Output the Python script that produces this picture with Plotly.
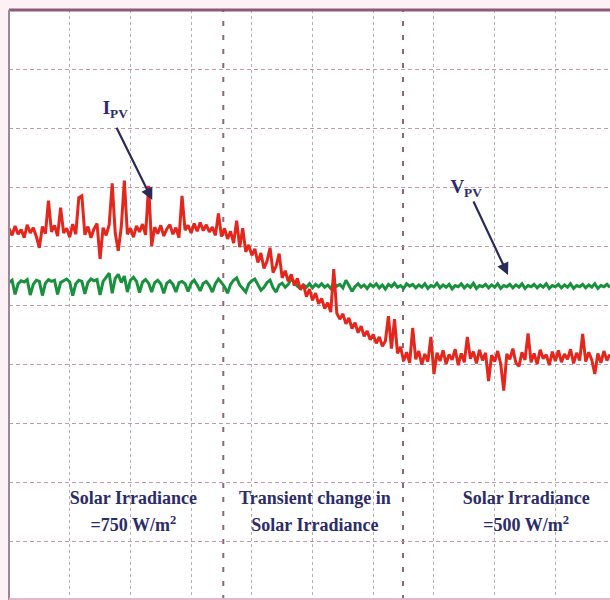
import numpy as np
import plotly.graph_objects as go

# Oscilloscope capture: PV current and voltage during a step change in irradiance.
# Horizontal axis in screen divisions (time), vertical axis in screen divisions.
SAMPLE_STEP = 0.05  # divisions between samples

# PV current trace (divisions)
i_pv = [
    6.30, 6.18, 6.34, 6.20, 6.28, 6.14, 6.36, 6.22, 6.31, 6.16,
    5.97, 6.33, 6.21, 6.77, 6.24, 6.35, 6.17, 6.65, 6.22, 6.30,
    6.15, 6.37, 6.20, 6.82, 6.85, 6.19, 6.33, 6.14, 6.29, 6.38,
    5.78, 6.31, 6.18, 6.36, 7.06, 6.22, 5.92, 6.33, 7.11, 6.20,
    6.30, 6.15, 6.34, 6.24, 6.37, 6.19, 7.02, 6.00, 6.32, 6.21,
    6.35, 6.17, 6.29, 6.36, 6.20, 6.31, 6.14, 6.85, 6.27, 6.35,
    6.22, 6.38, 6.25, 6.40, 6.26, 6.36, 6.24,
    6.32, 6.18, 6.55, 6.16, 6.30, 6.12, 6.25, 6.05, 6.43, 5.98,
    6.30, 5.90, 6.02, 5.84, 5.95, 5.72, 5.88, 5.62, 5.74, 5.97,
    5.55, 5.66, 5.87, 5.46, 5.58, 5.40, 5.52, 5.33, 5.45, 5.26,
    5.35, 5.14, 5.27, 5.08, 5.20, 5.02, 5.11, 4.94, 5.04, 4.88,
    5.61, 4.86, 4.76, 4.85, 4.68, 4.78, 4.60, 4.70, 4.53, 4.64,
    4.47, 4.56, 4.41, 4.50, 4.35, 4.46, 4.30, 4.39, 4.81, 4.26,
    4.76, 4.18, 4.29,
    4.05, 4.20, 4.02, 4.61, 4.08, 4.22, 3.99, 4.17, 4.04, 4.46,
    3.83, 4.19, 4.05, 4.23, 4.00, 4.16, 4.07, 4.25, 3.98, 4.18,
    4.03, 4.46, 4.09, 4.21, 4.01, 4.24, 4.06, 4.19, 3.71, 4.15,
    4.04, 4.22, 4.00, 3.55, 4.17, 4.08, 4.26, 4.02, 3.96, 4.20,
    4.07, 4.52, 4.03, 4.18, 4.00, 4.24, 4.09, 4.16, 3.98, 4.21,
    4.05, 4.23, 4.03, 4.17, 4.08, 4.25, 4.01, 4.19, 4.06, 4.51,
    4.04, 4.20, 4.07, 3.83, 4.18, 4.02, 4.22, 4.06, 4.16,
]

# PV voltage trace (divisions)
v_pv = [
    5.38, 5.42, 5.18, 5.36, 5.41, 5.39, 5.43, 5.17, 5.35, 5.42,
    5.40, 5.16, 5.37, 5.43, 5.40, 5.42, 5.18, 5.38, 5.41, 5.44,
    5.39, 5.16, 5.36, 5.42, 5.40, 5.19, 5.38, 5.44, 5.41, 5.43,
    5.17, 5.40, 5.47, 5.54, 5.20, 5.45, 5.52, 5.38, 5.49, 5.22,
    5.42, 5.47, 5.40, 5.21, 5.39, 5.43, 5.37, 5.22, 5.38, 5.42,
    5.36, 5.20, 5.37, 5.41, 5.35, 5.22, 5.38, 5.40, 5.36, 5.23,
    5.37, 5.42, 5.34, 5.24, 5.37, 5.40, 5.33, 5.22, 5.36, 5.44,
    5.38, 5.31, 5.20, 5.35, 5.42, 5.46, 5.34, 5.28, 5.22, 5.36,
    5.41, 5.44, 5.33, 5.25, 5.30, 5.38, 5.42, 5.29, 5.22, 5.34,
    5.37, 5.30, 5.35, 5.45, 5.38, 5.32, 5.28, 5.34, 5.30, 5.36,
    5.29, 5.35, 5.31, 5.36, 5.30, 5.34, 5.28, 5.37, 5.32, 5.35,
    5.29, 5.42, 5.33, 5.23, 5.31, 5.36, 5.30, 5.34, 5.28, 5.35,
    5.31, 5.36, 5.29, 5.34, 5.27, 5.35, 5.31, 5.37, 5.30, 5.33,
    5.28, 5.36, 5.32, 5.35, 5.29, 5.34, 5.30, 5.36, 5.28, 5.33,
    5.31, 5.37, 5.29, 5.34, 5.30, 5.35, 5.27, 5.33, 5.31, 5.36,
    5.29, 5.34, 5.30, 5.37, 5.28, 5.33, 5.31, 5.35, 5.29, 5.34,
    5.30, 5.36, 5.28, 5.33, 5.31, 5.35, 5.29, 5.34, 5.30, 5.36,
    5.28, 5.33, 5.31, 5.35, 5.29, 5.34, 5.30, 5.36, 5.28, 5.33,
    5.31, 5.35, 5.29, 5.34, 5.30, 5.36, 5.28, 5.33, 5.31, 5.35,
    5.29, 5.34, 5.30, 5.36, 5.28, 5.33, 5.31, 5.35, 5.30,
]

# Boundaries between the irradiance regions (divisions)
region_bounds = [3.53, 6.49]

# Region captions: lines of text and horizontal centres
region_lines = [
    ["Solar Irradiance", "=750 W/m<sup>2</sup>"],
    ["Transient change in", "Solar Irradiance"],
    ["Solar Irradiance", "=500 W/m<sup>2</sup>"],
]
region_centers = [2.05, 5.04, 8.52]
caption_rows = [1.71, 1.24]

# Signal labels: text, label position, arrow tail, arrow head
signal_labels = ["I<sub>PV</sub>", "V<sub>PV</sub>"]
label_pos = [(1.75, 8.31), (7.53, 6.98)]
arrow_tail = [(1.76, 8.03), (7.64, 6.78)]
arrow_head = [(2.36, 6.78), (8.22, 5.51)]

X_RANGE = [0, 9.9]
Y_RANGE = [0, 10]

t = np.arange(len(i_pv)) * SAMPLE_STEP

TEXT_COLOR = "#2c2c6a"
FONT = "Liberation Serif"

fig = go.Figure()
fig.add_trace(go.Scatter(x=t, y=v_pv, mode="lines",
                         line=dict(color="#17913b", width=3), hoverinfo="skip"))
fig.add_trace(go.Scatter(x=t, y=i_pv, mode="lines",
                         line=dict(color="#e4261c", width=3), hoverinfo="skip"))

# Region captions as text marks
cap_x, cap_y, cap_txt = [], [], []
for lines, cx in zip(region_lines, region_centers):
    for txt, ry in zip(lines, caption_rows):
        cap_x.append(cx)
        cap_y.append(ry)
        cap_txt.append("<b>" + txt + "</b>")
fig.add_trace(go.Scatter(x=cap_x, y=cap_y, mode="text", text=cap_txt,
                         textposition="middle center", hoverinfo="skip",
                         textfont=dict(family=FONT, size=18, color=TEXT_COLOR)))

# Signal names
fig.add_trace(go.Scatter(x=[p[0] for p in label_pos], y=[p[1] for p in label_pos],
                         mode="text", text=["<b>" + s + "</b>" for s in signal_labels],
                         textposition="middle center", hoverinfo="skip",
                         textfont=dict(family=FONT, size=19, color=TEXT_COLOR)))

# Region separators
for b in region_bounds:
    fig.add_shape(type="line", xref="x", yref="paper", x0=b, x1=b, y0=0, y1=1,
                  line=dict(color="#8c6878", width=2, dash="5px,9px"), layer="below")

# Screen frame
fig.add_shape(type="line", xref="paper", yref="paper", x0=0, x1=1, y0=1, y1=1,
              line=dict(color="#8a5c7c", width=3))
fig.add_shape(type="line", xref="paper", yref="paper", x0=0, x1=0, y0=0, y1=1,
              line=dict(color="#9a8898", width=2))
fig.add_shape(type="line", xref="paper", yref="paper", x0=0, x1=1, y0=0, y1=0,
              line=dict(color="#e6b6ca", width=4))

# Arrows pointing from the signal names to their traces
annotations = []
for (tx, ty), (hx, hy) in zip(arrow_tail, arrow_head):
    annotations.append(dict(x=hx, y=hy, ax=tx, ay=ty, xref="x", yref="y",
                            axref="x", ayref="y", text="", showarrow=True,
                            arrowhead=2, arrowsize=1.1, arrowwidth=2.2,
                            arrowcolor="#2a2a5c"))

fig.update_layout(
    width=610, height=600,
    margin=dict(l=9, r=0, t=10, b=0),
    paper_bgcolor="#fcf1f5",
    plot_bgcolor="#ffffff",
    showlegend=False,
    annotations=annotations,
    xaxis=dict(range=X_RANGE, tick0=0, dtick=1, showticklabels=False, ticks="",
               showgrid=True, gridcolor="#b9adb7", gridwidth=1, griddash="dot",
               zeroline=False, showline=False),
    yaxis=dict(range=Y_RANGE, tick0=0, dtick=1, showticklabels=False, ticks="",
               showgrid=True, gridcolor="#c497b2", gridwidth=1, griddash="4px,3px",
               zeroline=False, showline=False),
)

fig.write_html("out.html")
